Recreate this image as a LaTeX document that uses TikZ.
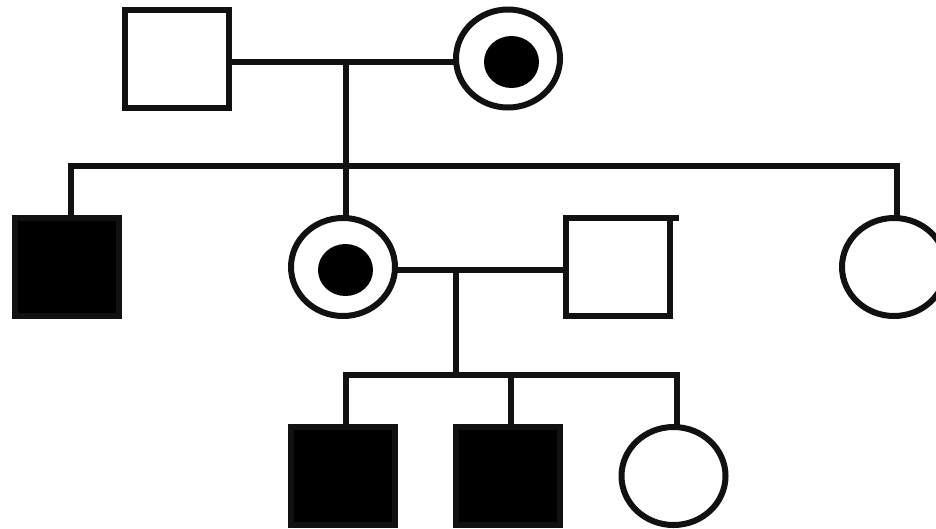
\documentclass[tikz,border=0pt]{standalone}
\usetikzlibrary{shapes.geometric}
\definecolor{ink}{RGB}{17,17,17}
\begin{document}
\begin{tikzpicture}[x=1pt,y=-1pt,
  ln/.style={line width=6pt, draw=ink},
  male/.style={rectangle, ln, minimum width=104pt, minimum height=98pt, inner sep=0pt, outer sep=0pt},
  female/.style={ellipse, ln, minimum width=104pt, minimum height=98pt, inner sep=0pt, outer sep=0pt},
  aff/.style={fill=black},
  carrierdot/.style={ellipse, fill=black, minimum width=55pt, minimum height=52pt, inner sep=0pt, outer sep=0pt}]
\useasboundingbox (0,0) rectangle (936,528);
\clip (0,0) rectangle (936,528);
% generation I
\node[male] (g1m) at (177,58.5) {};
\node[female] (g1f) at (508,58.5) {};
\node[carrierdot] (g1fd) at (511.5,62) {};
% generation II
\node[male,aff] (g2a) at (67,267) {};
\node[female] (g2b) at (343,267) {};
\node[carrierdot] (g2bd) at (345.5,270) {};
\node[male] (g2c) at (618.3,267) {};
\node[female] (g2d) at (894,267) {};
% generation III
\node[male,aff] (g3a) at (343,476) {};
\node[male,aff] (g3b) at (508,476) {};
\node[female] (g3c) at (673.5,476) {};
% junction points
\coordinate (m1) at (346,62);
\coordinate (s1) at (346,166);
\coordinate (s1l) at (70.5,166);
\coordinate (s1r) at (896.5,166);
\coordinate (m2) at (456,270);
\coordinate (s2) at (456,374.5);
\coordinate (s2l) at (346,374.5);
\coordinate (s2m) at (511,374.5);
\coordinate (s2r) at (677,374.5);
% connectors
\draw[ln] (g1m.east |- m1) -- (g1f.west |- m1);
\draw[ln] (m1) -- (s1);
\draw[ln] (g2a.north -| s1l) -- (s1l) -- (s1r) -- (g2d.north -| s1r);
\draw[ln] (s1) -- (g2b.north -| s1);
\draw[ln] (g2b.east |- m2) -- (g2c.west |- m2);
\draw[ln] (m2) -- (s2);
\draw[ln] (g3a.north -| s2l) -- (s2l) -- (s2r) -- (g3c.north -| s2r);
\draw[ln] (s2m) -- (g3b.north -| s2m);
\draw[ln] (g2c.north east) -- ++(9,0);
\end{tikzpicture}
\end{document}
